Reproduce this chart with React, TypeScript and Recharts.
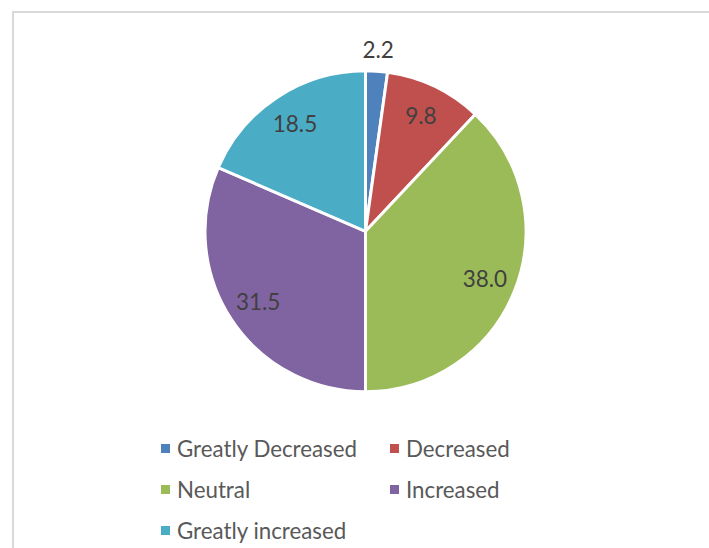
import { PieChart, Pie, Cell, Legend } from "recharts"

const categories = ["Greatly Decreased", "Decreased", "Neutral", "Increased", "Greatly increased"]
const shares = [2.2, 9.8, 38.0, 31.5, 18.5]
const colors = ["#4F81BD", "#C0504D", "#9BBB59", "#8064A2", "#4BACC6"]

const data = categories.map((name, i) => ({ name, value: shares[i] }))

const FONT = "Lato, 'Open Sans', sans-serif"
const RADIAN = Math.PI / 180

// small slices get their label pushed outside the pie, the rest sit inside
const renderLabel = (props: any) => {
  const { cx, cy, midAngle, outerRadius, value } = props
  const r = value < 5 ? outerRadius + 22 : outerRadius * 0.8
  const x = cx + r * Math.cos(-midAngle * RADIAN)
  const y = cy + r * Math.sin(-midAngle * RADIAN)
  return (
    <text
      x={x}
      y={y}
      fill="#404040"
      fontSize={22.5}
      fontFamily={FONT}
      textAnchor="middle"
      dominantBaseline="central"
    >
      {Number(value).toFixed(1)}
    </text>
  )
}

const renderLegend = () => (
  <div
    style={{
      display: "grid",
      gridTemplateColumns: "229px 200px",
      rowGap: 16,
      marginLeft: 161,
      fontFamily: FONT,
      fontSize: 22.3,
      color: "#595959",
      lineHeight: "25px",
    }}
  >
    {data.map((d, i) => (
      <div key={d.name} style={{ display: "flex", alignItems: "center" }}>
        <span
          style={{
            width: 9,
            height: 9,
            background: colors[i],
            marginRight: 7,
            display: "inline-block",
          }}
        />
        {d.name}
      </div>
    ))}
  </div>
)

export default function App() {
  return (
    <div style={{ position: "absolute", left: 0, top: 0, width: 709, height: 548, background: "#fff" }}>
      <div
        style={{
          position: "absolute",
          left: 12,
          top: 11,
          width: 697,
          height: 537,
          borderLeft: "2px solid #d9d9d9",
          borderTop: "2px solid #d9d9d9",
          boxSizing: "border-box",
        }}
      />
      <PieChart width={709} height={548} margin={{ top: 0, right: 0, bottom: 0, left: 0 }}>
        <Pie
          data={data}
          dataKey="value"
          nameKey="name"
          cx={365.5}
          cy={231.3}
          outerRadius={160.5}
          startAngle={90}
          endAngle={-270}
          stroke="#ffffff"
          strokeWidth={3}
          label={renderLabel}
          labelLine={false}
          isAnimationActive={false}
        >
          {data.map((d, i) => (
            <Cell key={d.name} fill={colors[i]} />
          ))}
        </Pie>
        <Legend
          content={renderLegend}
          wrapperStyle={{ position: "absolute", left: 0, top: 436, width: 709 }}
        />
      </PieChart>
    </div>
  )
}
